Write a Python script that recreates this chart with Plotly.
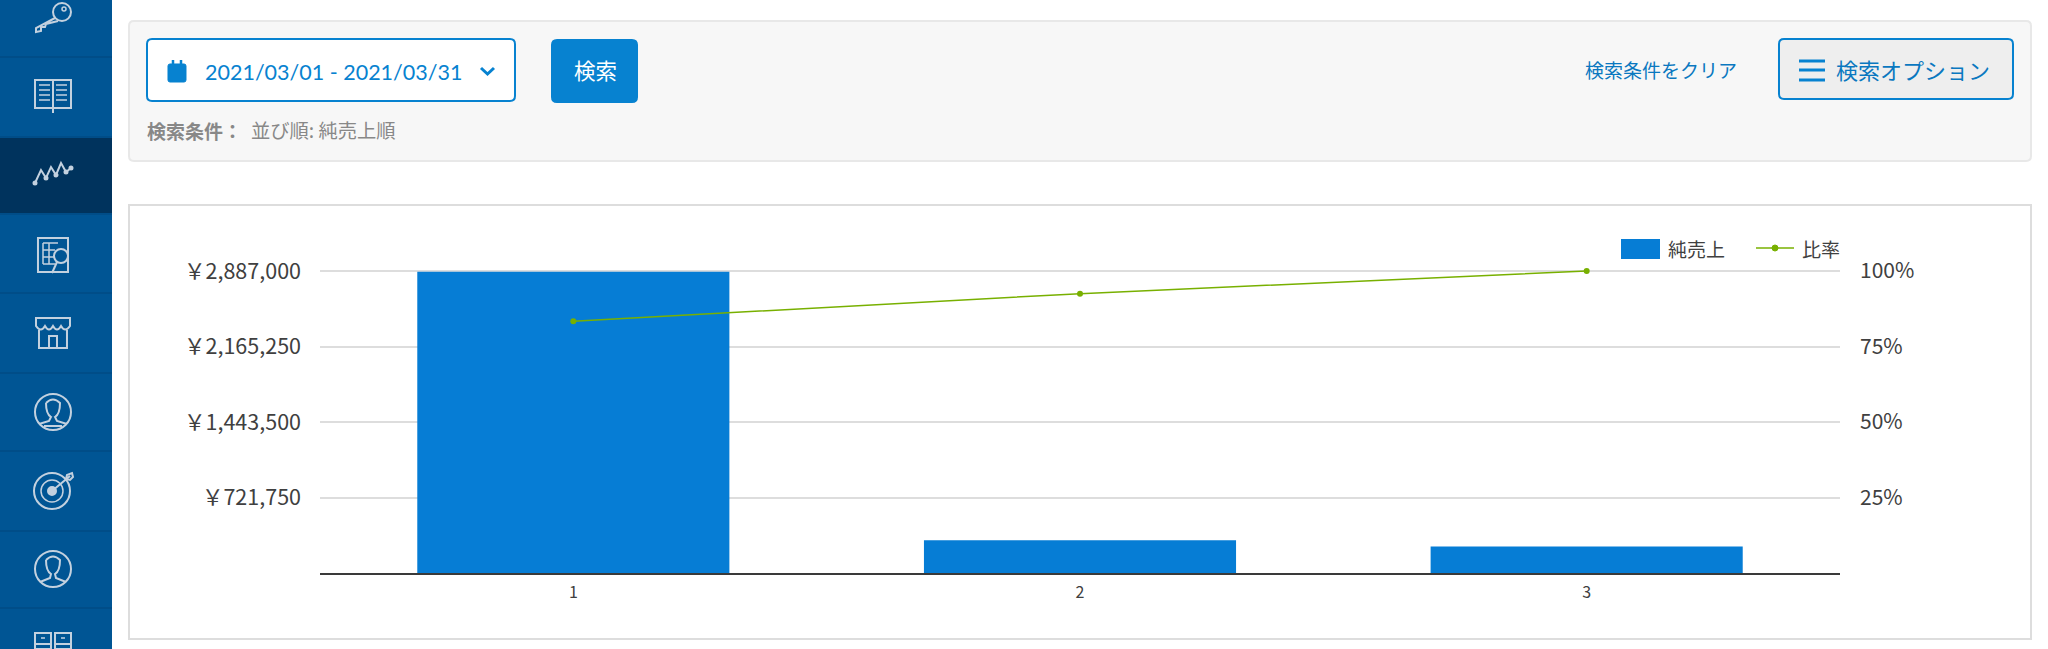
import re
import plotly.graph_objects as go

# ---- chart data ----
categories = [1, 2, 3]
net_sales = [2880000, 312000, 253000]
ratio = [83.4, 92.5, 100]
sales_ticks = [721750, 1443500, 2165250, 2887000]
sales_tick_labels = ["￥721,750", "￥1,443,500", "￥2,165,250", "￥2,887,000"]
ratio_ticks = [25, 50, 75, 100]
ratio_tick_labels = ["25%", "50%", "75%", "100%"]
series_names = ["純売上", "比率"]

W, H = 2048, 649
BLUE = "#067dd5"
GREEN = "#78b000"
UI_BLUE = "#0782d0"
CJK = "Noto Sans CJK JP"
TEXT = "#404040"
ICON = "#c3d1df"

shapes, notes = [], []


def fx(x):
    return x / W


def fy(y):
    return 1 - y / H


def rect(x0, y0, x1, y1, fill, line=None, lw=0, layer="below"):
    shapes.append(dict(type="rect", xref="paper", yref="paper", x0=fx(x0), x1=fx(x1),
                       y0=fy(y0), y1=fy(y1), fillcolor=fill, layer=layer,
                       line=dict(color=line or "rgba(0,0,0,0)", width=lw)))


def path(d, color=ICON, lw=2, fill=None, layer="below"):
    out, is_x = [], True
    for tok in re.findall(r"[MLQCZ]|-?\d+\.?\d*", d):
        if tok in "MLQCZ":
            out.append(tok)
            is_x = True
        else:
            v = float(tok)
            out.append(f"{fx(v):.5f}" if is_x else f"{fy(v):.5f}")
            is_x = not is_x
    shapes.append(dict(type="path", xref="paper", yref="paper", path=" ".join(out), layer=layer,
                       fillcolor=fill or "rgba(0,0,0,0)",
                       line=dict(color=color, width=lw)))


def rrect(x0, y0, x1, y1, r, fill, line=None, lw=2):
    d = (f"M {x0+r} {y0} L {x1-r} {y0} Q {x1} {y0} {x1} {y0+r} L {x1} {y1-r} Q {x1} {y1} {x1-r} {y1} "
         f"L {x0+r} {y1} Q {x0} {y1} {x0} {y1-r} L {x0} {y0+r} Q {x0} {y0} {x0+r} {y0} Z")
    path(d, color=line or fill, lw=lw, fill=fill)


def circle(cx, cy, r, color=ICON, lw=2, fill=None):
    shapes.append(dict(type="circle", xref="paper", yref="paper", x0=fx(cx-r), x1=fx(cx+r),
                       y0=fy(cy-r), y1=fy(cy+r), layer="below",
                       fillcolor=fill or "rgba(0,0,0,0)", line=dict(color=color, width=lw)))


def text(x, y, s, size, color=TEXT, anchor="left", family=CJK):
    notes.append(dict(xref="paper", yref="paper", x=fx(x), y=fy(y), text=s, showarrow=False,
                      xanchor=anchor, yanchor="middle", borderpad=0,
                      font=dict(size=size, color=color, family=family)))


# ---- sidebar ----
rect(0, 0, 112, H, "#005594")
rect(0, 138, 112, 214, "#00335d")
for y in [57, 137, 214, 293, 373, 451, 531, 608]:
    rect(0, y-1, 112, y+1, "#004d88")

# key
circle(62, 12, 9)
circle(64, 9, 2, lw=1.5)
path("M 55 18 L 36 28 L 36 32 L 41 31 L 41 27 L 45 27 L 46 24 L 50 23 L 58 21")
# book
path("M 35 80 L 71 80 L 71 108 L 35 108 Z M 53 80 L 53 113")
for y in [85, 90, 95, 100]:
    path(f"M 39 {y} L 50 {y} M 56 {y} L 67 {y}", lw=1.5)
# trend
path("M 35 183 L 41 170 L 46 178 L 51 167 L 56 175 L 61 163 L 66 172 L 71 168", lw=2)
for cx, cy in [(35, 183), (46, 178), (56, 175), (66, 172), (71, 168)]:
    circle(cx, cy, 1.5, fill=ICON)
# report with magnifier
path("M 38 238 L 68 238 L 68 272 L 38 272 Z")
path("M 43 243 L 58 243 M 43 250 L 55 250 M 43 257 L 55 257 M 43 264 L 55 264 M 43 243 L 43 264 M 49 243 L 49 264", lw=1.5)
circle(61, 256, 7, lw=2, fill="#005594")
path("M 57 262 L 52 273", lw=2)
# store
path("M 36 318 L 70 318 L 70 326 Q 65 333 61 326 Q 57 333 53 326 Q 49 333 45 326 Q 41 333 36 326 Z")
path("M 39 330 L 39 348 L 67 348 L 67 330 M 49 348 L 49 336 L 57 336 L 57 348")
# person with shirt
circle(53, 412, 18)
path("M 46 403 Q 53 396 60 403 Q 60 414 55 417 L 57 421 L 67 424 M 46 403 Q 46 414 51 417 L 49 421 L 39 424 M 44 426 L 62 426")
# target
circle(52, 491, 18)
circle(52, 491, 11, lw=1.5)
circle(52, 491, 4, lw=2, fill=ICON)
path("M 52 491 L 70 476 M 66 479 L 67 475 L 72 473 L 73 477 L 70 480 Z")
# person
circle(53, 569, 18)
path("M 46 560 Q 53 553 60 560 Q 60 571 55 574 L 56 578 L 66 582 M 46 560 Q 46 571 51 574 L 50 578 L 40 582")
# drawers
path("M 35 633 L 51 633 L 51 649 L 35 649 Z M 55 633 L 71 633 L 71 649 L 55 649 Z M 35 644 L 51 644 M 55 644 L 71 644")
path("M 41 638 L 45 638 M 61 638 L 65 638", lw=1.5)

# ---- search panel ----
rrect(129, 21, 2031, 161, 5, "#f7f7f7", "#e8e8e8", 2)
rrect(147, 39, 515, 101, 5, "#ffffff", UI_BLUE, 2)
rrect(168, 64, 186, 82, 2, UI_BLUE, UI_BLUE, 1)
path("M 173 60 L 173 65 M 181 60 L 181 65", color=UI_BLUE, lw=2.5)
path("M 481 68 L 487.5 74 L 494 68", color=UI_BLUE, lw=3)
text(204, 72, "2021/03/01 - 2021/03/31", 21.5, UI_BLUE, family="Lato")
rrect(552, 40, 637, 102, 5, UI_BLUE)
text(595, 70, "検索", 21.5, "#ffffff", "center")
text(146, 130, "<b>検索条件：</b>", 19, "#888888")
text(250, 130, "並び順: 純売上順", 19.3, "#888888")
text(1584, 69, "検索条件をクリア", 19, "#0a78c0")
rrect(1779, 39, 2013, 99, 5, "#eeeeee", UI_BLUE, 2)
for y in [61, 70, 80]:
    rect(1799, y-1.5, 1825, y+1.5, UI_BLUE)
text(1835, 69, "検索オプション", 22, "#0a78c0")

# ---- chart frame ----
rect(129, 205, 2031, 639, "#ffffff", "#dddddd", 2)

# ---- legend ----
rect(1621, 239, 1660, 259, BLUE)
text(1667, 248, series_names[0], 19, TEXT)
path("M 1756 248 L 1794 248", color=GREEN, lw=1.5)
circle(1775, 248, 3, color=GREEN, lw=1, fill=GREEN)
text(1801, 248, series_names[1], 19, TEXT)

fig = go.Figure()
fig.add_trace(go.Bar(x=categories, y=net_sales, name=series_names[0], marker=dict(color=BLUE, line=dict(width=0))))
fig.add_trace(go.Scatter(x=categories, y=ratio, name=series_names[1], yaxis="y2", mode="lines+markers",
                         line=dict(color=GREEN, width=1.5), marker=dict(color=GREEN, size=6), cliponaxis=False))

# the axes reach 2px above the top tick so that the top gridline is kept
PLOT_TOP, PLOT_BOTTOM = 269, 573
HEADROOM = 304 / 302
fig.update_layout(
    width=W, height=H, margin=dict(l=0, r=0, t=0, b=0, pad=0, autoexpand=False), showlegend=False,
    paper_bgcolor="#ffffff", plot_bgcolor="rgba(0,0,0,0)", bargap=0.384,
    font=dict(family=CJK, color=TEXT),
    shapes=shapes, annotations=notes,
    xaxis=dict(domain=[320/W, 1840/W], range=[0.5, 3.5], tickmode="array", tickvals=categories,
               showgrid=False, zeroline=False, showline=True, linecolor="#3a3a3a", linewidth=2,
               ticks="", ticklabelstandoff=4, tickfont=dict(size=16, color=TEXT)),
    yaxis=dict(domain=[1-PLOT_BOTTOM/H, 1-PLOT_TOP/H], range=[0, 2887000*HEADROOM], tickmode="array",
               tickvals=sales_ticks, ticktext=sales_tick_labels, showgrid=True, gridcolor="#dddddd",
               gridwidth=2, zeroline=False, showline=False, ticks="", ticklabelstandoff=18,
               tickfont=dict(size=21.5, color=TEXT)),
    yaxis2=dict(domain=[1-PLOT_BOTTOM/H, 1-PLOT_TOP/H], range=[0, 100*HEADROOM], overlaying="y", side="right",
                anchor="x", tickmode="array", tickvals=ratio_ticks, ticktext=ratio_tick_labels,
                showgrid=False, zeroline=False, showline=False, ticks="", ticklabelstandoff=19,
                tickfont=dict(size=21, color=TEXT)),
)

fig.write_html("out.html", config=dict(displayModeBar=False),
               post_script="document.body.style.margin='0';document.body.style.overflow='hidden';")
